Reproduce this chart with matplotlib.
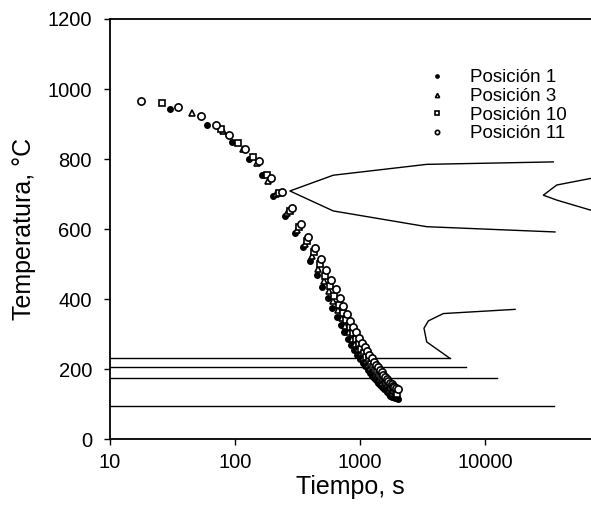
import matplotlib
matplotlib.use("Agg")
import matplotlib.pyplot as plt
from matplotlib.ticker import FixedLocator, FixedFormatter, NullLocator

plt.rcParams['font.family'] = ['Liberation Sans', 'DejaVu Sans']

# ---- cooling data (time s, temperature C) ----
t_pos1 = [30, 60, 95, 130, 165, 200, 250, 300, 350, 400, 450, 500, 550, 600, 650, 700,
          750, 800, 850, 900, 950, 1000, 1050, 1100, 1150, 1200, 1250, 1300, 1350, 1400,
          1450, 1500, 1550, 1600, 1650, 1700, 1750, 1800, 1850, 1900, 1950, 2000]
T_pos1 = [943, 896, 848, 800, 755, 696, 637, 589, 548, 509, 470, 436, 404, 376, 350, 327,
          306, 287, 270, 255, 242, 230, 219, 208, 199, 190, 182, 175, 168, 161,
          156, 150, 145, 140, 135, 129, 125, 122, 120, 118, 117, 116]

t_pos3 = [45, 80, 115, 150, 185, 212, 262, 312, 362, 412, 462, 512, 562, 612, 662, 712,
          762, 812, 862, 912, 962, 1012, 1062, 1112, 1162, 1212, 1262, 1312, 1362, 1412,
          1462, 1512, 1562, 1612, 1662, 1712, 1762, 1812]
T_pos3 = [932, 880, 830, 788, 738, 699, 645, 597, 559, 522, 487, 453, 423, 394, 369, 345,
          324, 305, 287, 271, 257, 245, 233, 223, 212, 203, 195, 187, 180, 173,
          167, 161, 156, 151, 146, 141, 136, 131]

t_pos10 = [26, 77, 105, 140, 180, 225, 275, 325, 375, 425, 475, 525, 575, 625, 675, 725,
           775, 825, 875, 925, 975, 1025, 1075, 1125, 1175, 1225, 1275, 1325, 1375, 1425,
           1475, 1525, 1575, 1625, 1675, 1725, 1775, 1825, 1875, 1925, 1975]
T_pos10 = [961, 887, 847, 805, 755, 702, 651, 605, 567, 534, 500, 467, 438, 410, 384, 361,
           340, 321, 303, 287, 272, 259, 247, 236, 226, 216, 207, 199, 191, 184,
           178, 172, 166, 161, 156, 151, 146, 142, 138, 133, 128]

t_pos11 = [17.7, 35, 53, 71, 89, 120, 155, 195, 237, 287, 337, 387, 437, 487, 537, 587,
           637, 687, 737, 787, 837, 887, 937, 987, 1037, 1087, 1137, 1187, 1237, 1287,
           1337, 1387, 1437, 1487, 1537, 1587, 1637, 1687, 1737, 1787, 1837, 1887, 1937, 2000]
T_pos11 = [966, 948, 924, 897, 869, 830, 795, 745, 707, 659, 614, 578, 547, 515, 483, 456,
           429, 403, 380, 359, 339, 321, 305, 289, 275, 263, 251, 241, 231, 222,
           213, 205, 198, 191, 184, 178, 173, 167, 162, 157, 153, 148, 146, 145]

# ---- CCT diagram curves ----
ferrite_t = [35200, 3420, 611, 275, 611, 3420, 36300]
ferrite_T = [792, 785, 754, 709, 652, 607, 592]

pearlite_t = [70500, 37500, 29300, 37500, 70500]
pearlite_T = [745, 726, 697, 683, 654]

bainite_t = [17400, 4640, 3520, 3250, 3420, 5250]
bainite_T = [371, 359, 338, 317, 278, 231]

hlines_T = [231, 206, 174, 95]
hlines_end = [5250, 7050, 12500, 35600]

xticks = [10, 100, 1000, 10000]
xticklabels = ['10', '100', '1000', '10000']
yticks = [0, 200, 400, 600, 800, 1000, 1200]
xmax = 70500

W, H = 591, 515
fig = plt.figure(figsize=(W / 100, H / 100), dpi=100)
ax = fig.add_axes([110 / W, (H - 439.3) / H, (W - 110) / W, 420.3 / H])

lw = 1.0
ax.plot(ferrite_t, ferrite_T, color='black', lw=lw)
ax.plot(pearlite_t, pearlite_T, color='black', lw=lw)
ax.plot(bainite_t, bainite_T, color='black', lw=lw)
for T, te in zip(hlines_T, hlines_end):
    ax.plot([10, te], [T, T], color='black', lw=lw)
# top frame line at 1200
ax.plot([10, xmax], [1200, 1200], color='black', lw=1.3, clip_on=False)

ax.plot(t_pos1, T_pos1, linestyle='none', marker='o', ms=4.0, mfc='black', mec='black',
        label='Posición 1')
ax.plot(t_pos3, T_pos3, linestyle='none', marker='^', ms=5.0, mfc='white', mec='black',
        mew=1.2, label='Posición 3')
ax.plot(t_pos10, T_pos10, linestyle='none', marker='s', ms=4.6, mfc='white', mec='black',
        mew=1.2, label='Posición 10')
ax.plot(t_pos11, T_pos11, linestyle='none', marker='o', ms=5.2, mfc='white', mec='black',
        mew=1.2, label='Posición 11')

ax.set_xscale('log')
ax.set_xlim(10, xmax)
ax.set_ylim(0, 1200)
ax.xaxis.set_major_locator(FixedLocator(xticks))
ax.xaxis.set_major_formatter(FixedFormatter(xticklabels))
ax.xaxis.set_minor_locator(NullLocator())
ax.set_yticks(yticks)
ax.tick_params(axis='both', direction='out', length=4, width=1, labelsize=14.5)
ax.tick_params(axis='y', pad=9)
ax.tick_params(axis='x', pad=6)

ax.spines['right'].set_visible(False)
ax.spines['top'].set_visible(False)
ax.spines['left'].set_linewidth(1.3)
ax.spines['bottom'].set_linewidth(1.3)

ax.set_xlabel('Tiempo, s', fontsize=18, labelpad=2)
ax.set_ylabel('Temperatura, °C', fontsize=18, labelpad=8)

leg = ax.legend(loc='upper left', bbox_to_anchor=(418 / W, 1 - 60 / H),
                bbox_transform=fig.transFigure, frameon=False, fontsize=13.5,
                handlelength=1.0, handletextpad=1.3, labelspacing=0.08,
                borderpad=0, markerscale=0.6)

fig.savefig('out.png', dpi=100)
